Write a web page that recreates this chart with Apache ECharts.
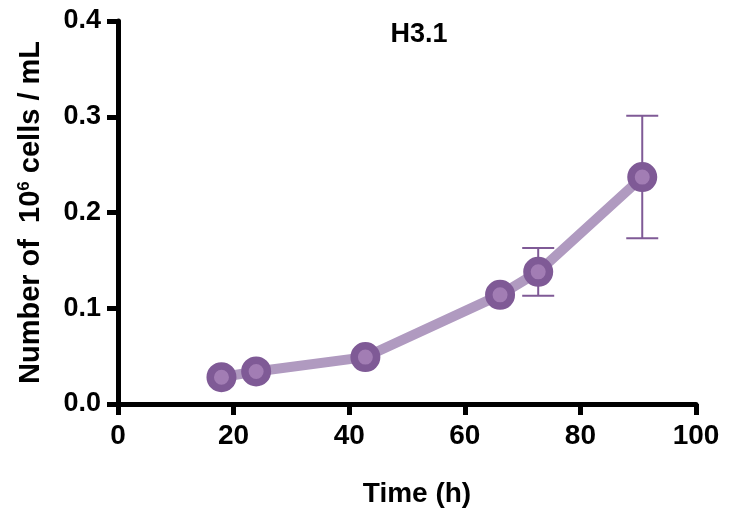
<!DOCTYPE html>
<html><head><meta charset="utf-8">
<script src="https://cdn.jsdelivr.net/npm/echarts@6/dist/echarts.min.js"></script>
<style>html,body{margin:0;padding:0;background:#fff}#c{width:738px;height:518px}</style>
</head><body><div id="c"></div>
<script>
const timeH = [17.9, 23.9, 42.8, 66.1, 72.7, 90.7];
const cells = [0.028, 0.034, 0.049, 0.114, 0.138, 0.237];
const errLow = [null, null, null, null, 0.113, 0.173];
const errHigh = [null, null, null, null, 0.163, 0.301];
const xTicks = [0, 20, 40, 60, 80, 100];
const yTicks = [0.0, 0.1, 0.2, 0.3, 0.4];

const F = '"Liberation Sans", Arial, Helvetica, sans-serif';
const chart = echarts.init(document.getElementById('c'));
const pts = timeH.map((t, i) => [t, cells[i]]);
const errData = timeH.map((t, i) => [t, errLow[i], errHigh[i]]).filter(d => d[1] != null);

chart.setOption({
  animation: false,
  title: { text: 'H3.1', left: 414, top: 16, textAlign: 'center',
    textStyle: { fontFamily: F, fontWeight: 'bold', fontSize: 27, color: '#000' } },
  grid: { left: 118, right: 42, top: 21, bottom: 114 },
  xAxis: {
    type: 'value', min: 0, max: 100, interval: 20,
    name: 'Time (h)', nameLocation: 'middle', nameGap: 76,
    nameTextStyle: { fontFamily: F, fontWeight: 'bold', fontSize: 28, color: '#000', padding: [0, 0, 0, 20] },
    axisLine: { lineStyle: { color: '#000', width: 5 } },
    axisTick: { show: true, length: 11, lineStyle: { color: '#000', width: 5 } },
    axisLabel: { margin: 18, fontFamily: F, fontWeight: 'bold', fontSize: 28, color: '#000',
      formatter: v => xTicks.includes(v) ? String(v) : '' },
    splitLine: { show: false }
  },
  yAxis: {
    type: 'value', min: 0, max: 0.4, interval: 0.1,
    name: 'Number of  10{sup|6} cells / mL', nameLocation: 'middle', nameGap: 73,
    nameTextStyle: { fontFamily: F, fontWeight: 'bold', fontSize: 29, color: '#000',
      rich: { sup: { fontFamily: F, fontWeight: 'bold', fontSize: 17, color: '#000', verticalAlign: 'top', padding: [0, 0, 10, 0] } } },
    axisLine: { lineStyle: { color: '#000', width: 5 } },
    axisTick: { show: true, length: 11, lineStyle: { color: '#000', width: 5 } },
    axisLabel: { margin: 17, fontFamily: F, fontWeight: 'bold', fontSize: 27, color: '#000',
      formatter: v => { const t = yTicks.find(y => Math.abs(y - v) < 1e-9); return t == null ? '' : t.toFixed(1); } },
    splitLine: { show: false }
  },
  series: [
    {
      type: 'custom', z: 1,
      data: errData,
      renderItem: (params, api) => {
        const x = api.value(0);
        const lo = api.coord([x, api.value(1)]);
        const hi = api.coord([x, api.value(2)]);
        const hw = 16;
        const st = { stroke: '#7f5a96', lineWidth: 2 };
        return { type: 'group', children: [
          { type: 'line', shape: { x1: lo[0], y1: lo[1], x2: hi[0], y2: hi[1] }, style: st },
          { type: 'line', shape: { x1: lo[0] - hw, y1: lo[1], x2: lo[0] + hw, y2: lo[1] }, style: st },
          { type: 'line', shape: { x1: hi[0] - hw, y1: hi[1], x2: hi[0] + hw, y2: hi[1] }, style: st }
        ]};
      }
    },
    {
      type: 'line', z: 3, data: pts,
      lineStyle: { color: '#b09ac0', width: 10 },
      symbol: 'circle', symbolSize: 22.5,
      itemStyle: { color: '#a27db4', borderColor: '#7f5a96', borderWidth: 7.5 }
    }
  ]
});
</script></body></html>
